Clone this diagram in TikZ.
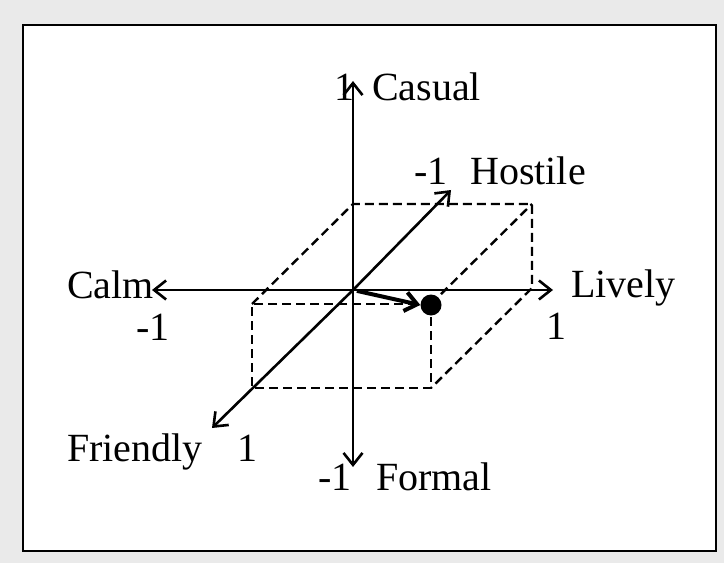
\documentclass[tikz,border=0pt]{standalone}
\usepackage{fontspec}
\setmainfont{Liberation Serif}
\usetikzlibrary{arrows.meta}
\definecolor{bggray}{RGB}{234,234,234}
\begin{document}
\begin{tikzpicture}[x=1bp,y=-1bp,
  lbl/.style={anchor=base west,inner sep=0pt,font=\fontsize{40bp}{48bp}\selectfont},
  axis/.style={line width=2.6bp,-{Straight Barb[length=12bp,width=19bp,line width=2.6bp]}},
  dashedge/.style={line width=2.4bp,dash pattern=on 9bp off 5bp},
  vecarrow/.style={line width=4bp,-{Straight Barb[length=12bp,width=19bp,line width=4bp]}}]
\fill[bggray] (0,0) rectangle (724,563);
\useasboundingbox (0,0) rectangle (724,563);
\draw[line width=2.8bp,fill=white] (23,25) rectangle (716,551);
% axes points
\coordinate (O) at (353,290);
\coordinate (top) at (353,81);
\coordinate (bot) at (353,467);
\coordinate (lft) at (152,290);
\coordinate (rgt) at (553,290);
\coordinate (ne) at (451,190);
\coordinate (sw) at (212,428);
% box corners
\coordinate (A) at (252,304);
\coordinate (B) at (431,304);
\coordinate (C) at (431,388);
\coordinate (D) at (252,388);
\coordinate (E) at (353,204);
\coordinate (F) at (532,204);
\coordinate (G) at (532,288);
% dashed box
\draw[dashedge] (B) -- (A) -- (D) -- (C) -- (B);
\draw[dashedge] (A) -- (E) -- (F) -- (G) -- (C);
\draw[dashedge] (B) -- (F);
% axes
\draw[axis] (O) -- (top);
\draw[axis] (O) -- (bot);
\draw[axis] (O) -- (lft);
\draw[axis] (O) -- (rgt);
\draw[axis] (O) -- (ne);
\draw[axis] (O) -- (sw);
% point and vector
\node[circle,fill=black,inner sep=0pt,minimum width=18bp,minimum height=21bp] (P) at (431,305) {};
\draw[vecarrow,shorten <=4bp] (O) -- (P.west);
% labels
\node[lbl] (l1) at (334,101) {1};
\node[lbl] (casual) at (372,101) {Casual};
\node[lbl] (hm1) at (414,185) {-1};
\node[lbl] (hostile) at (470,185) {Hostile};
\node[lbl] (calm) at (67,298) {Calm};
\node[lbl] (cm1) at (136,340) {-1};
\node[lbl] (lively) at (571,297) {Lively};
\node[lbl] (lv1) at (546,339) {1};
\node[lbl] (friendly) at (67,461) {Friendly};
\node[lbl] (fr1) at (237,461) {1};
\node[lbl] (fm1) at (318,490) {-1};
\node[lbl] (formal) at (376,490) {Formal};
\end{tikzpicture}
\end{document}
